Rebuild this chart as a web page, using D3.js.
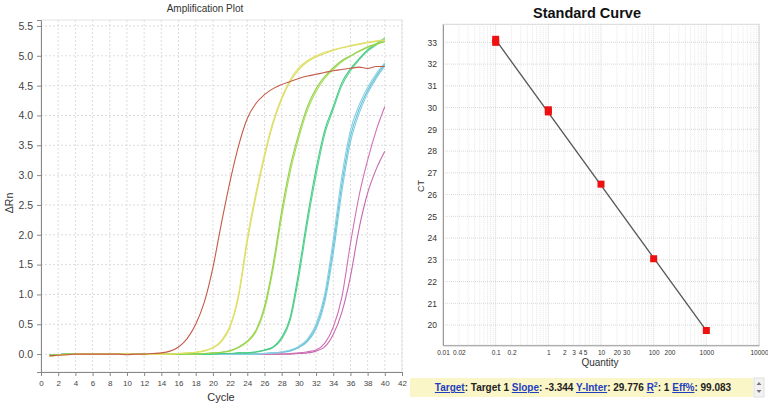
<!DOCTYPE html>
<html>
<head>
<meta charset="utf-8">
<script src="https://cdn.jsdelivr.net/npm/d3@7"></script>
<style>
  body { margin: 0; background: #fff; font-family: "Liberation Sans", Arial, sans-serif; }
  svg { display: block; }
</style>
</head>
<body>
<svg id="chart" width="768" height="411"></svg>
<script>
// amplification plot data (delta Rn per cycle)
const cycles = [1,2,3,4,5,6,7,8,9,10,11,12,13,14,15,16,17,18,19,20,21,22,23,24,25,26,27,28,29,30,31,32,33,34,35,36,37,38,39,40];

const brown = [-0.03,-0.02,-0.01,0,0,0,0,0,0,-0.01,0,0,0.01,0.02,0.05,0.12,0.26,0.5,0.87,1.45,2.2,2.9,3.5,3.95,4.2,4.35,4.45,4.52,4.57,4.62,4.66,4.69,4.72,4.75,4.77,4.79,4.81,4.79,4.82,4.82];
const yellowA = [-0.04,-0.02,-0.01,0,0,0,0,0,0,0,0,-0.01,0,0,0,0.01,0.02,0.03,0.06,0.11,0.23,0.48,1.02,1.95,2.7,3.35,3.9,4.3,4.6,4.8,4.92,5.0,5.06,5.1,5.14,5.17,5.2,5.23,5.25,5.27];
const yellowB = [-0.03,-0.02,-0.01,0,0,0,0,0,0,0,0,0,0,0,0,0.01,0.02,0.03,0.05,0.1,0.21,0.45,0.97,1.88,2.64,3.3,3.86,4.27,4.57,4.77,4.9,4.98,5.04,5.09,5.13,5.16,5.19,5.22,5.24,5.26];
const limeA = [-0.02,-0.01,0,0,0,0,0,0,0,0,0,0,0,0,0,0,0,0,0.01,0.02,0.03,0.06,0.12,0.22,0.4,0.8,1.5,2.4,3.15,3.7,4.15,4.45,4.65,4.8,4.92,5.0,5.08,5.15,5.2,5.24];
const limeB = [-0.02,-0.01,0,0,0,0,0,0,0,0,0,0,0,0,0,0,0,0,0.01,0.02,0.03,0.05,0.11,0.2,0.37,0.74,1.42,2.3,3.06,3.63,4.09,4.4,4.62,4.77,4.9,4.99,5.07,5.14,5.19,5.23];
const greenA = [-0.02,-0.01,0,0,0,0,0,0,0,0,0,0,0,0,0,0,0,0,0,0,0.01,0.01,0.02,0.02,0.04,0.07,0.12,0.28,0.62,1.4,2.3,3.1,3.75,4.15,4.55,4.78,4.95,5.1,5.2,5.3];
const greenB = [-0.02,-0.01,0,0,0,0,0,0,0,0,0,0,0,0,0,0,0,0,0,0,0.01,0.01,0.02,0.02,0.03,0.06,0.11,0.25,0.57,1.3,2.2,3.0,3.68,4.1,4.5,4.75,4.93,5.08,5.18,5.28];
const cyanA = [-0.01,-0.01,0,0,0,0,0,0,0,0,0,0,0,0,0,0,0,0,0,0,0,0,0,0,0,0.01,0.02,0.03,0.06,0.12,0.23,0.46,0.93,1.8,2.85,3.65,4.1,4.42,4.66,4.86];
const cyanB = [-0.01,-0.01,0,0,0,0,0,0,0,0,0,0,0,0,0,0,0,0,0,0,0,0,0,0,0,0.01,0.02,0.03,0.05,0.11,0.21,0.42,0.86,1.68,2.72,3.55,4.03,4.37,4.62,4.83];
const cyanC = [-0.01,-0.01,0,0,0,0,0,0,0,0,0,0,0,0,0,0,0,0,0,0,0,0,0,0,0,0.01,0.02,0.04,0.07,0.13,0.25,0.5,1.0,1.92,2.98,3.75,4.17,4.47,4.7,4.88];
const pinkA = [-0.01,-0.01,0,0,0,0,0,0,0,0,0,0,0,0,0,0,0,0,0,0,0,0,0,0,0,0,0,0,0.01,0.02,0.04,0.07,0.18,0.45,0.95,1.85,2.65,3.25,3.75,4.15];
const pinkB = [-0.01,-0.01,0,0,0,0,0,0,0,0,0,0,0,0,0,0,0,0,0,0,0,0,0,0,0,0,0,0,0,0.01,0.02,0.05,0.12,0.33,0.7,1.3,2.1,2.7,3.1,3.4];

const ampTicksX = [0,2,4,6,8,10,12,14,16,18,20,22,24,26,28,30,32,34,36,38,40,42];
const ampTicksY = [0,0.5,1,1.5,2,2.5,3,3.5,4,4.5,5,5.5];

// standard curve data
const stdQuantity = [0.1, 0.1, 1, 1, 10, 100, 1000];
const stdCt = [33.0, 33.14, 29.8, 29.9, 26.48, 23.05, 19.75];
const stdTicksY = [20,21,22,23,24,25,26,27,28,29,30,31,32,33];
const stdTicksX = [0.01,0.02,0.1,0.2,1,2,3,4,5,10,20,30,100,200,1000,10000];
const slope = -3.344;
const yInter = 29.776;
const rSquared = 1;
const effPct = 99.083;

const svg = d3.select('#chart');

// ---------------- amplification plot ----------------
const ampX = d3.scaleLinear().domain([0, 42]).range([41, 402]);
const ampY = d3.scaleLinear().domain([-0.3, 5.6]).range([372, 20]);

const ampSeries = [
    { values: pinkB, color: '#c868b0' },
    { values: pinkA, color: '#d070b4' },
    { values: cyanB, color: '#80ccdf' },
    { values: cyanA, color: '#62c2d8' },
    { values: cyanC, color: '#8ad0e0' },
    { values: greenB, color: '#5cd294' },
    { values: greenA, color: '#46cc82' },
    { values: limeB, color: '#a8dc58' },
    { values: limeA, color: '#92d24a' },
    { values: yellowB, color: '#dadc60' },
    { values: yellowA, color: '#e2e06a' },
    { values: brown, color: '#c45a48' }
];

svg.append('defs').append('clipPath').attr('id', 'ampClip')
    .append('rect')
    .attr('x', ampX(0)).attr('y', ampY(5.6))
    .attr('width', ampX(42) - ampX(0)).attr('height', ampY(-0.3) - ampY(5.6));

const amp = svg.append('g');

amp.append('rect')
    .attr('x', ampX(0)).attr('y', ampY(5.6))
    .attr('width', ampX(42) - ampX(0)).attr('height', ampY(-0.3) - ampY(5.6))
    .attr('fill', '#fff').attr('stroke', '#e4e4e4');

amp.selectAll('line.vgrid')
    .data(ampTicksX.slice(1))
    .enter().append('line')
    .attr('class', 'vgrid')
    .attr('x1', d => ampX(d)).attr('x2', d => ampX(d))
    .attr('y1', ampY(5.6)).attr('y2', ampY(-0.3))
    .attr('stroke', '#dcdcdc').attr('stroke-dasharray', '2,2');

amp.selectAll('line.hgrid')
    .data(ampTicksY)
    .enter().append('line')
    .attr('class', 'hgrid')
    .attr('x1', ampX(0)).attr('x2', ampX(42))
    .attr('y1', d => ampY(d)).attr('y2', d => ampY(d))
    .attr('stroke', '#dcdcdc').attr('stroke-dasharray', '2,2');

const ampLine = d3.line()
    .x((d, i) => ampX(cycles[i]))
    .y(d => ampY(d))
    .curve(d3.curveMonotoneX);

amp.append('g').attr('clip-path', 'url(#ampClip)')
    .selectAll('path')
    .data(ampSeries)
    .enter().append('path')
    .attr('d', d => ampLine(d.values))
    .attr('fill', 'none')
    .attr('stroke', d => d.color)
    .attr('stroke-width', 1.1);

const ampAxisX = amp.append('g')
    .attr('transform', `translate(0,${ampY(-0.3)})`)
    .call(d3.axisBottom(ampX).tickValues(ampTicksX).tickSize(4).tickFormat(d3.format('d')));
const ampAxisY = amp.append('g')
    .attr('transform', `translate(${ampX(0)},0)`)
    .call(d3.axisLeft(ampY).tickValues(ampTicksY).tickSize(4).tickFormat(d3.format('.1f')));

[ampAxisX, ampAxisY].forEach(a => {
    a.select('.domain').attr('stroke', '#888');
    a.selectAll('.tick line').attr('stroke', '#888');
    a.selectAll('text').attr('fill', '#444').style('font-family', '"Liberation Sans", Arial, sans-serif');
});
ampAxisX.selectAll('text').style('font-size', '8px').attr('dy', '0.9em');
ampAxisY.selectAll('text').style('font-size', '10.5px').attr('dx', '-1');

amp.append('text')
    .attr('x', 205).attr('y', 12)
    .attr('text-anchor', 'middle')
    .attr('fill', '#333')
    .style('font-size', '10px')
    .text('Amplification Plot');

amp.append('text')
    .attr('x', 221).attr('y', 401)
    .attr('text-anchor', 'middle')
    .attr('fill', '#333')
    .style('font-size', '11px')
    .text('Cycle');

amp.append('text')
    .attr('transform', 'translate(13,203) rotate(-90)')
    .attr('text-anchor', 'middle')
    .attr('fill', '#333')
    .style('font-size', '10.5px')
    .text('ΔRn');

// ---------------- standard curve ----------------
const stdX = d3.scaleLog().domain([0.01, 10000]).range([443, 759]);
const stdY = d3.scaleLinear().domain([19.07, 33.83]).range([345.3, 24.3]);

const std = svg.append('g');

std.append('rect')
    .attr('x', stdX(0.01)).attr('y', stdY(33.83))
    .attr('width', stdX(10000) - stdX(0.01)).attr('height', stdY(19.07) - stdY(33.83))
    .attr('fill', '#fff').attr('stroke', '#d6d6d6');

std.selectAll('line.minor')
    .data(stdX.ticks())
    .enter().append('line')
    .attr('class', 'minor')
    .attr('x1', d => stdX(d)).attr('x2', d => stdX(d))
    .attr('y1', stdY(33.83)).attr('y2', stdY(19.07))
    .attr('stroke', d => Math.abs(Math.log10(d) - Math.round(Math.log10(d))) < 1e-9 ? '#d2d2d2' : '#e6e6e6')
    .attr('stroke-dasharray', '1,1');

std.selectAll('line.hgrid')
    .data(stdTicksY)
    .enter().append('line')
    .attr('class', 'hgrid')
    .attr('x1', stdX(0.01)).attr('x2', stdX(10000))
    .attr('y1', d => stdY(d)).attr('y2', d => stdY(d))
    .attr('stroke', '#d8d8d8').attr('stroke-dasharray', '1,1');

// fitted line from slope and intercept
const fitQ = [d3.min(stdQuantity), d3.max(stdQuantity)];
std.append('line')
    .attr('x1', stdX(fitQ[0])).attr('y1', stdY(yInter + slope * Math.log10(fitQ[0])))
    .attr('x2', stdX(fitQ[1])).attr('y2', stdY(yInter + slope * Math.log10(fitQ[1])))
    .attr('stroke', '#555').attr('stroke-width', 1.3);

std.selectAll('rect.pt')
    .data(stdQuantity)
    .enter().append('rect')
    .attr('class', 'pt')
    .attr('x', d => stdX(d) - 3.5)
    .attr('y', (d, i) => stdY(stdCt[i]) - 3.5)
    .attr('width', 7).attr('height', 7)
    .attr('fill', '#ee1010');

const stdAxisX = std.append('g')
    .attr('transform', `translate(0,${stdY(19.07)})`)
    .call(d3.axisBottom(stdX).tickValues(stdTicksX).tickSize(0).tickPadding(5).tickFormat(d => String(d)));
const stdAxisY = std.append('g')
    .attr('transform', `translate(${stdX(0.01)},0)`)
    .call(d3.axisLeft(stdY).tickValues(stdTicksY).tickSize(0).tickPadding(6).tickFormat(d3.format('d')));

[stdAxisX, stdAxisY].forEach(a => {
    a.select('.domain').attr('stroke', '#9a9a9a');
    a.selectAll('text').attr('fill', '#333').style('font-family', '"Liberation Sans", Arial, sans-serif');
});
stdAxisX.selectAll('text').style('font-size', '6.5px');
stdAxisY.selectAll('text').style('font-size', '8.5px');

std.append('text')
    .attr('x', 587).attr('y', 18)
    .attr('text-anchor', 'middle')
    .attr('fill', '#111')
    .style('font-size', '14.5px')
    .style('font-weight', 'bold')
    .text('Standard Curve');

std.append('text')
    .attr('x', 600).attr('y', 366)
    .attr('text-anchor', 'middle')
    .attr('fill', '#333')
    .style('font-size', '10px')
    .text('Quantity');

std.append('text')
    .attr('transform', 'translate(424,186) rotate(-90)')
    .attr('text-anchor', 'middle')
    .attr('fill', '#333')
    .style('font-size', '9px')
    .text('CT');

// ---------------- summary bar ----------------
const bar = svg.append('g');
bar.append('rect')
    .attr('x', 410).attr('y', 378).attr('width', 343).attr('height', 19)
    .attr('fill', '#fbf6c8');
bar.append('rect')
    .attr('x', 754).attr('y', 378).attr('width', 10).attr('height', 19)
    .attr('fill', '#f2f2f2').attr('stroke', '#e0e0e0');
bar.append('path').attr('d', 'M756.5,385 L759,382 L761.5,385 Z').attr('fill', '#777');
bar.append('path').attr('d', 'M756.5,390 L759,393 L761.5,390 Z').attr('fill', '#777');

const link = '#1f3fbf';
const ink = '#222';
const summary = bar.append('text')
    .attr('x', 583).attr('y', 391)
    .attr('text-anchor', 'middle')
    .style('font-size', '10px')
    .style('font-weight', 'bold');
const parts = [
    ['Target', link, true], [': Target 1 ', ink, false],
    ['Slope', link, true], [': ' + slope.toFixed(3) + ' ', ink, false],
    ['Y-Inter', link, true], [': ' + yInter.toFixed(3) + ' ', ink, false],
    ['R', link, true], ['2', link, false, true], [': ' + rSquared + ' ', ink, false],
    ['Eff%', link, true], [': ' + effPct.toFixed(3), ink, false]
];
parts.forEach(([t, c, u, sup]) => {
    const ts = summary.append('tspan')
        .attr('fill', c)
        .style('text-decoration', u ? 'underline' : 'none')
        .text(t);
    if (sup) ts.attr('dy', -4).style('font-size', '7px');
    else if (t.startsWith(': ' + rSquared)) ts.attr('dy', 4);
});
</script>
</body>
</html>
